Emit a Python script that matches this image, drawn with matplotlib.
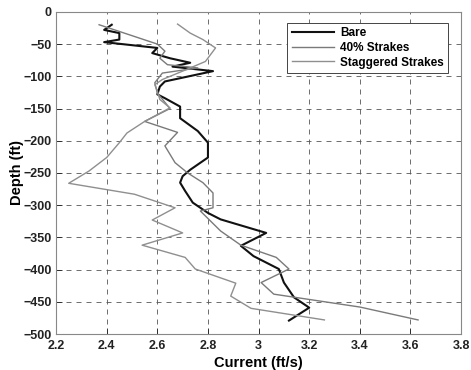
import matplotlib
matplotlib.use("Agg")
import matplotlib.pyplot as plt

# Bare
bare_depth = [-20, -28, -33, -43, -47, -56, -64, -72, -79, -85, -92, -108, -116, -128, -134,
              -147, -165, -185, -203, -226, -245, -255, -265, -278, -296, -312, -322, -343,
              -363, -379, -399, -420, -443, -459, -479]
bare_current = [2.42, 2.39, 2.45, 2.45, 2.39, 2.60, 2.58, 2.65, 2.73, 2.66, 2.82, 2.63, 2.61,
                2.60, 2.63, 2.69, 2.69, 2.76, 2.80, 2.80, 2.73, 2.70, 2.69, 2.71, 2.74, 2.80,
                2.85, 3.03, 2.93, 2.98, 3.08, 3.10, 3.14, 3.20, 3.12]

# 40% Strakes
s40_depth = [-20, -50, -61, -72, -82, -87, -95, -110, -126, -150, -170, -187, -208, -234,
             -250, -265, -281, -304, -309, -340, -362, -381, -399, -420, -438, -458, -478]
s40_current = [2.37, 2.60, 2.63, 2.61, 2.64, 2.76, 2.62, 2.59, 2.60, 2.65, 2.55, 2.68, 2.63,
               2.67, 2.72, 2.78, 2.82, 2.82, 2.77, 2.85, 2.93, 3.07, 3.12, 3.01, 3.06, 3.40,
               3.63]

# Staggered Strakes
stag_depth = [-19, -33, -43, -56, -77, -92, -105, -113, -123, -136, -149, -170, -188, -203,
              -226, -247, -266, -283, -304, -323, -343, -362, -381, -399, -421, -441, -460,
              -478]
stag_current = [2.68, 2.73, 2.78, 2.83, 2.79, 2.70, 2.62, 2.59, 2.60, 2.61, 2.65, 2.55, 2.48,
                2.45, 2.40, 2.33, 2.25, 2.51, 2.67, 2.58, 2.70, 2.54, 2.71, 2.75, 2.91, 2.89,
                2.97, 3.26]

xticks = [2.2, 2.4, 2.6, 2.8, 3.0, 3.2, 3.4, 3.6, 3.8]
xtick_labels = ["2.2", "2.4", "2.6", "2.8", "3", "3.2", "3.4", "3.6", "3.8"]
yticks = [0, -50, -100, -150, -200, -250, -300, -350, -400, -450, -500]

plt.rcParams['font.family'] = ['Liberation Sans', 'DejaVu Sans']

fig = plt.figure(figsize=(4.71, 3.70), dpi=100)
ax = fig.add_axes([0.119, 0.097, 0.860, 0.871])

ax.plot(bare_current, bare_depth, color='#111111', lw=1.5, label='Bare')
ax.plot(s40_current, s40_depth, color='#7a7a7a', lw=1.0, label='40% Strakes')
ax.plot(stag_current, stag_depth, color='#8f8f8f', lw=1.0, label='Staggered Strakes')

ax.set_xlim(2.2, 3.8)
ax.set_ylim(-500, 0)
ax.set_xticks(xticks)
ax.set_xticklabels(xtick_labels)
ax.set_yticks(yticks)
ax.tick_params(direction='in', length=4, width=0.6, labelsize=9, colors='#222222')
ax.tick_params(axis='x', pad=4)
ax.tick_params(axis='y', pad=3)
for lbl in ax.get_xticklabels() + ax.get_yticklabels():
    lbl.set_fontweight('bold')
ax.grid(True, linestyle=(0, (6, 6)), color='#555555', lw=0.6)
for s in ax.spines.values():
    s.set_color('#888888')
    s.set_linewidth(0.8)

ax.set_xlabel('Current (ft/s)', fontsize=10.5, fontweight='bold', labelpad=3)
ax.set_ylabel('Depth (ft)', fontsize=10.5, fontweight='bold', labelpad=0)

leg = ax.legend(loc='upper right', bbox_to_anchor=(0.982, 0.985), prop={'weight': 'bold', 'size': 8.5},
                handlelength=3.6, fancybox=False, framealpha=1, edgecolor='#444444',
                borderpad=0.35, labelspacing=0.25, handletextpad=0.5)
leg.get_frame().set_linewidth(0.7)

fig.savefig('out.png', dpi=100)
